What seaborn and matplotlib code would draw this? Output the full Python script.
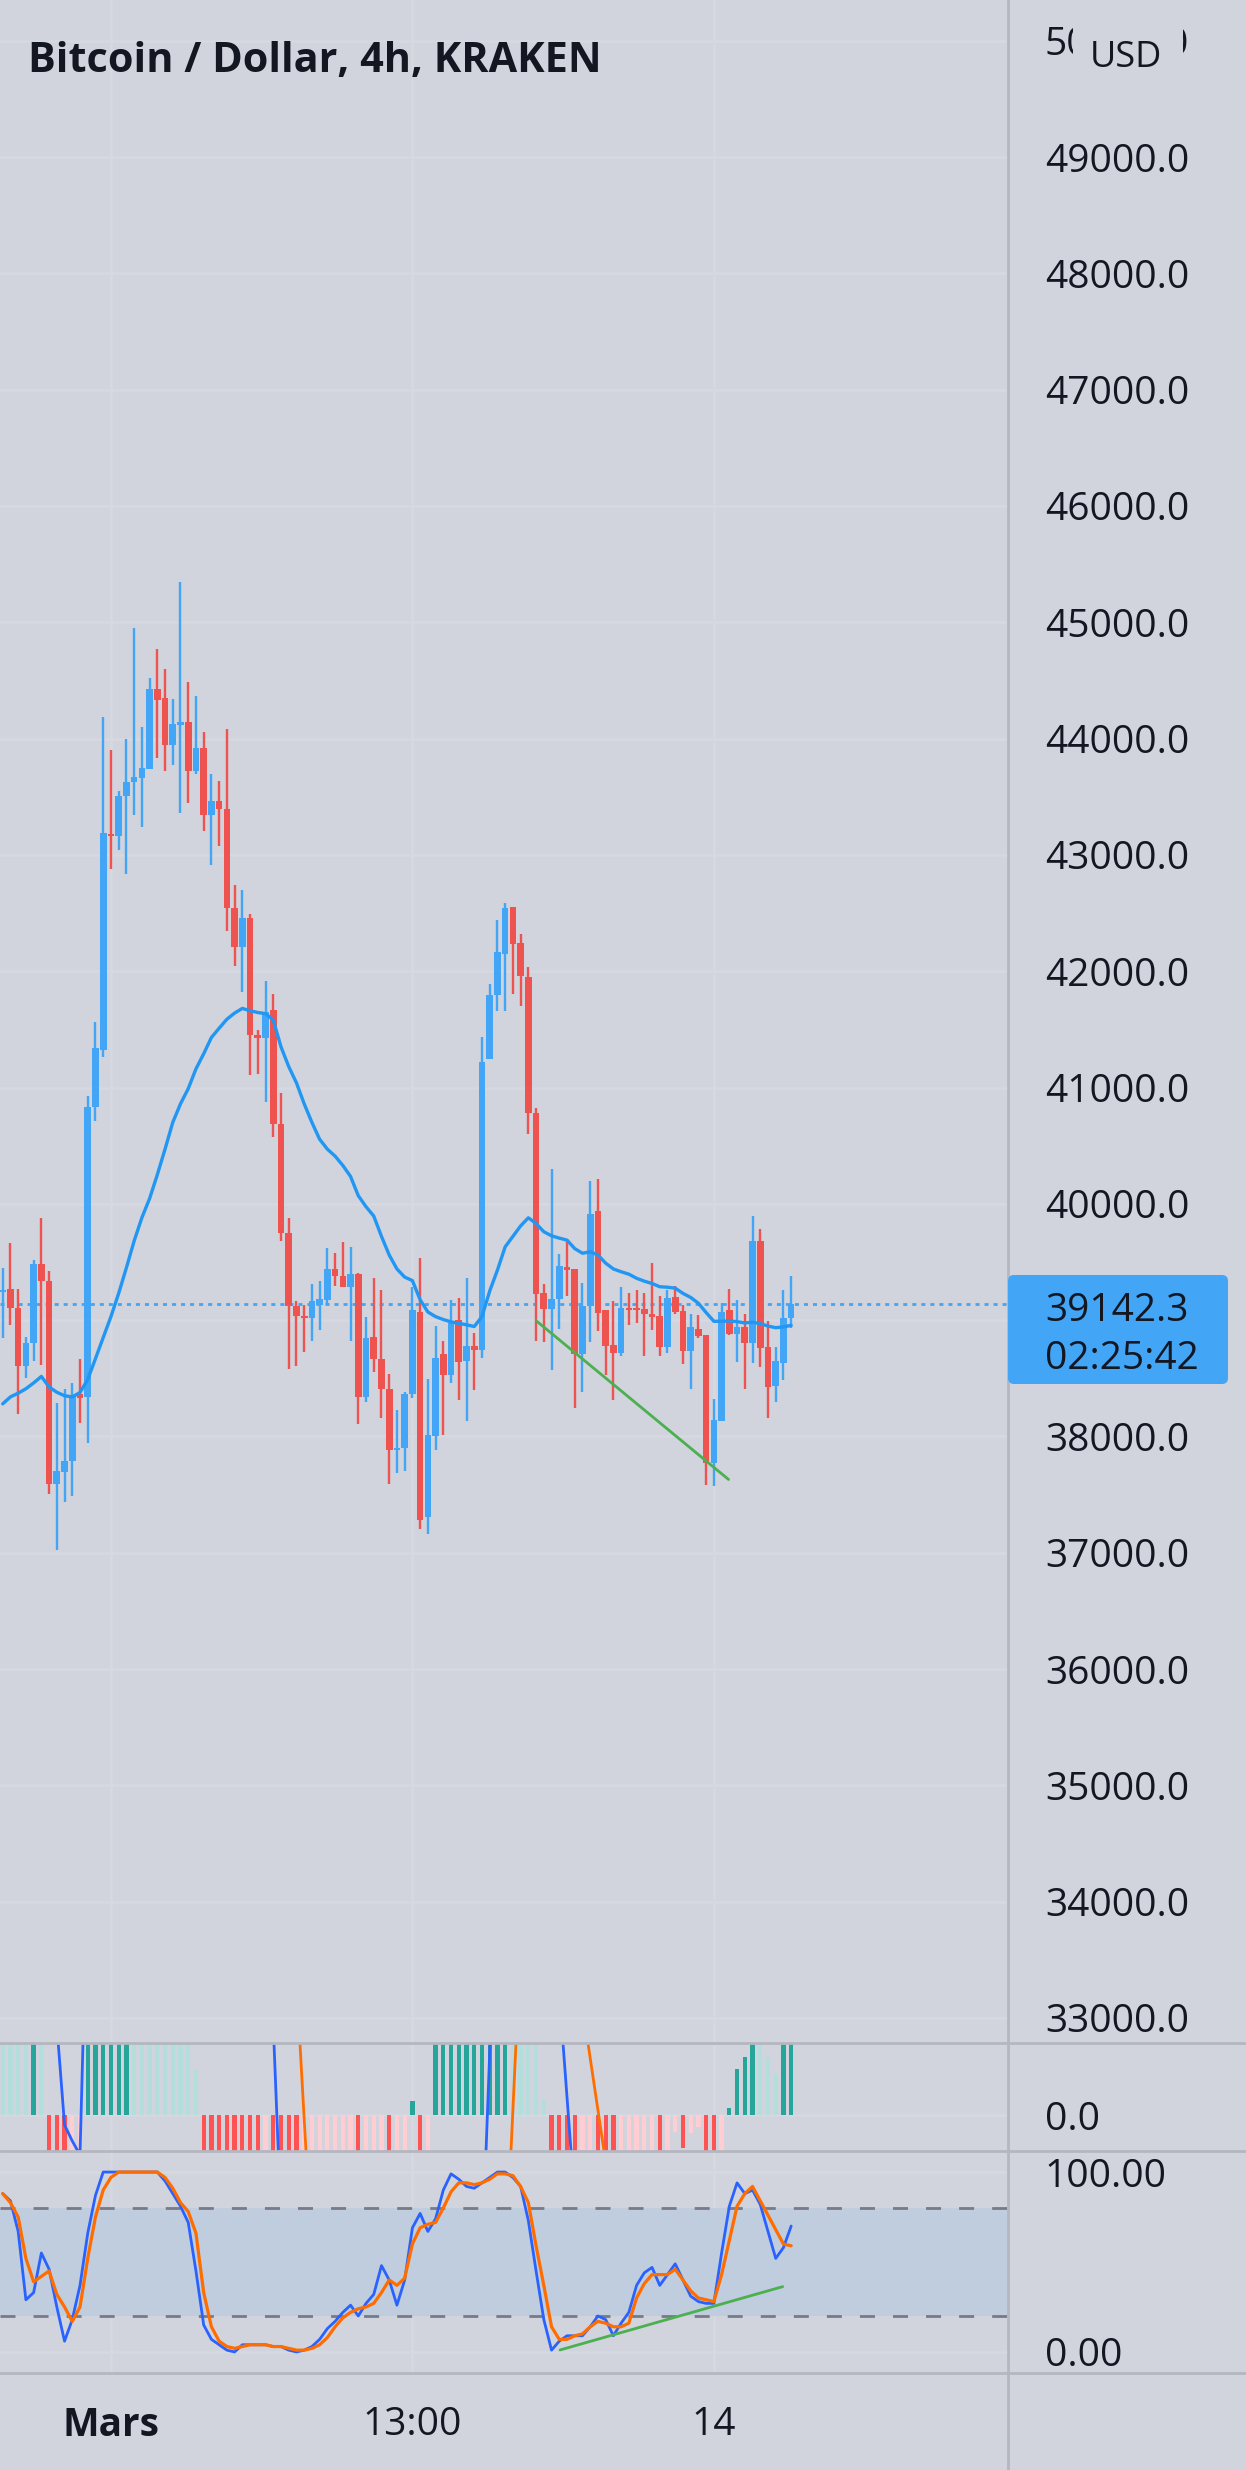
import numpy as np
import pandas as pd
import matplotlib
matplotlib.use('Agg')
import matplotlib.pyplot as plt
import seaborn as sns
from matplotlib.lines import Line2D
from matplotlib.patches import FancyBboxPatch, Rectangle
from matplotlib.transforms import IdentityTransform

# BTC/USD 4h candles (Kraken)
opens = [39240, 39267, 39108, 38609, 38801, 39486, 39338, 37594, 37693, 37786,
         38362, 38335, 40830, 41323, 43177, 43161, 43506, 43627, 43660, 43736,
         44427, 44350, 43945, 44120, 44142, 43725, 43917, 43341, 43462, 43396,
         42546, 42212, 42458, 41449, 41427, 41663, 40682, 39749, 39119, 39037,
         39020, 39130, 39174, 39437, 39382, 39283, 39393, 38335, 38856, 38664,
         38406, 37880, 37900, 38367, 39070, 37304, 38003, 38705, 38532, 39004,
         38648, 38774, 38743, 41246, 41795, 42152, 42551, 42244, 41948, 40778,
         39235, 39096, 39185, 39453, 39442, 38713, 39119, 39938, 39086, 38785,
         38714, 39101, 39101, 39095, 39052, 39035, 38771, 39198, 39078, 38734,
         38923, 38871, 37768, 38135, 39086, 38880, 38943, 38806, 39682, 38771,
         38436, 38634, 39020]
highs = [39448, 39667, 39267, 38856, 39514, 39875, 39420, 38285, 38406, 38461,
         38664, 40928, 41565, 44186, 43901, 43550, 43994, 44948, 44098, 44520,
         44767, 44597, 44340, 45349, 44488, 44367, 44054, 43692, 43632, 44082,
         42738, 42700, 42491, 41493, 41916, 41806, 40950, 39875, 39163, 39130,
         39311, 39338, 39623, 39574, 39673, 39628, 39404, 39026, 39360, 39256,
         38538, 38225, 38380, 39283, 39538, 38494, 38947, 38820, 39173, 39192,
         39365, 38889, 41438, 41891, 42436, 42589, 42551, 42320, 42036, 40828,
         39311, 40298, 39569, 39695, 39442, 39319, 40195, 40213, 39086, 39164,
         39287, 39230, 39258, 39230, 39493, 39207, 39258, 39293, 39129, 39052,
         39043, 38871, 38321, 39144, 39267, 39172, 39052, 39895, 39783, 38992,
         38771, 39258, 39379]
lows = [38845, 38954, 38197, 38499, 38652, 38614, 37501, 37024, 37435, 37485,
        38115, 37940, 40709, 41258, 42875, 43040, 42837, 43341, 43243, 43736,
        43835, 43720, 43775, 43358, 43446, 43692, 43204, 42914, 43078, 42343,
        42042, 41817, 41109, 41120, 40874, 40572, 39678, 38581, 38609, 38729,
        38817, 38916, 39130, 39294, 39283, 38817, 38104, 38296, 38554, 38159,
        37594, 37688, 37700, 38329, 37208, 37162, 37880, 38014, 38463, 38314,
        38130, 38398, 38674, 41246, 41660, 41660, 41806, 41699, 40597, 38820,
        38809, 38571, 38928, 39211, 38245, 38379, 38814, 38906, 38527, 38313,
        38691, 38957, 38977, 38691, 38914, 38691, 38720, 39052, 38622, 38407,
        38848, 37582, 37573, 38135, 38871, 38642, 38407, 38634, 38599, 38161,
        38292, 38485, 38929]
closes = [39256, 39108, 38609, 38801, 39486, 39338, 37594, 37704, 37786, 38351,
          38329, 40830, 41340, 43188, 43161, 43506, 43627, 43670, 43747, 44427,
          44334, 43945, 44126, 44142, 43725, 43917, 43341, 43462, 43396, 42546,
          42212, 42458, 41449, 41427, 41652, 40682, 39749, 39119, 39037, 39020,
          39163, 39185, 39437, 39382, 39283, 39393, 38335, 38845, 38664, 38406,
          37885, 37900, 38367, 39089, 37285, 38014, 38674, 38532, 38974, 38636,
          38774, 38743, 41219, 41795, 42167, 42543, 42236, 41960, 40778, 39223,
          39096, 39185, 39465, 39427, 38713, 39119, 39912, 39058, 38777, 38719,
          39101, 39086, 39086, 39049, 39029, 38771, 39192, 39072, 38734, 38943,
          38866, 37774, 38141, 39066, 38880, 38943, 38806, 39682, 38762, 38427,
          38648, 39020, 39142.3]
ma_line = [38280, 38340, 38372, 38410, 38460, 38516, 38425, 38380, 38350, 38340,
           38378, 38490, 38669, 38850, 39030, 39230, 39450, 39680, 39880, 40045,
           40250, 40470, 40700, 40860, 40990, 41160, 41290, 41430, 41510, 41587,
           41640, 41680, 41660, 41645, 41635, 41580, 41350, 41180, 41040, 40860,
           40700, 40555, 40470, 40410, 40330, 40235, 40070, 39975, 39895, 39720,
           39560, 39440, 39370, 39340, 39175, 39070, 39030, 39005, 38985, 38972,
           38960, 38945, 39030, 39250, 39430, 39630, 39720, 39810, 39880, 39830,
           39760, 39725, 39705, 39688, 39615, 39575, 39588, 39560, 39490, 39440,
           39416, 39395, 39360, 39335, 39315, 39287, 39283, 39275, 39230, 39195,
           39145, 39065, 38990, 38990, 38993, 38987, 38976, 38982, 38970, 38949,
           38935, 38942, 38955]
last_price = 39142.3
countdown = "02:25:42"
price_ticks = list(range(33000, 50001, 1000))
hidden_tick = 39000          # sits under the last-price label

# MACD panel
macd_hist = [90, 90, 90, 90, 90, 90, -50, -50, -50, -45,
             -40, 90, 90, 90, 90, 90, 90, 90, 90, 90,
             90, 90, 90, 90, 90, 46, -50, -50, -50, -50,
             -50, -50, -50, -50, -50, -50, -50, -50, -50, -50,
             -50, -50, -50, -50, -50, -50, -50, -50, -50, -50,
             -50, -50, -50, 14, -50, -50, 90, 90, 90, 90,
             90, 90, 90, 90, 90, 90, 90, 90, 90, 90,
             16, -50, -50, -50, -50, -50, -50, -50, -50, -50,
             -50, -50, -50, -50, -50, -50, -50, -17, -33, -18,
             -12, -50, -50, -50, 7, 46, 58, 90, 90, 58,
             41, 90, 90]
hist_kind = ("ggggGgRRRrrGGGGGGgggggggggRRRRRRRRrRRRRrrrrrrrRrrrRrrGRrGGGGGGGGGG"
             "gggggRRRRrrRRRrrrrrRrrRrrRRrGGGGgggGG")
macd_line = [300, 290, 285, 280, 285, 280, 220, 90, -10, -26,
             -40, 250, 420, 700, 900, 1000, 1080, 1120, 1160, 1200,
             1210, 1200, 1190, 1170, 1150, 1120, 1060, 1000, 940, 840,
             740, 650, 520, 420, 330, 90, -104, -230, -330, -400,
             -450, -480, -490, -480, -470, -460, -470, -500, -500, -510,
             -540, -560, -540, -470, -480, -470, -440, -420, -390, -360,
             -330, -300, -144, 62, 270, 420, 520, 560, 520, 380,
             250, 150, 122, 18, -86, -140, -150, -200, -230, -260,
             -275, -285, -295, -300, -305, -320, -320, -310, -320, -325,
             -325, -370, -390, -360, -300, -250, -230, -180, -170, -180,
             -190, -150, -120]
signal_line = [200, 210, 220, 230, 240, 250, 250, 240, 200, 160,
               120, 140, 190, 290, 400, 520, 630, 730, 820, 900,
               960, 1010, 1050, 1075, 1090, 1100, 1095, 1080, 1060, 1020,
               970, 910, 840, 760, 680, 560, 420, 280, 135, -4,
               -140, -250, -320, -370, -400, -420, -430, -440, -450, -460,
               -475, -490, -500, -495, -490, -480, -465, -450, -435, -415,
               -395, -370, -340, -300, -260, -161, 5, 171, 300, 360,
               380, 370, 340, 290, 220, 109, 57, 5, -47, -100,
               -140, -170, -195, -215, -230, -245, -255, -262, -270, -275,
               -280, -290, -300, -305, -305, -300, -290, -275, -262, -250,
               -240, -228, -215]

# Stoch RSI panel
stoch_k = [88, 84, 67, 29, 33, 55, 46, 25, 6, 18,
           37, 66, 87, 100, 100, 100, 100, 100, 100, 100,
           100, 95, 88, 81, 72, 45, 15, 7, 4, 1,
           0, 4, 4, 4, 4, 3, 3, 1, 0, 1,
           3, 7, 13, 17, 22, 26, 20, 27, 32, 48,
           40, 26, 40, 69, 77, 67, 74, 90, 99, 96,
           92, 91, 94, 97, 100, 100, 97, 92, 73, 45,
           18, 1, 6, 9, 9, 9, 14, 20, 18, 9,
           16, 22, 37, 44, 47, 37, 43, 49, 40, 31,
           28, 27, 27, 55, 81, 94, 88, 90, 82, 67,
           52, 58, 70]
stoch_d = [88, 83, 75, 52, 39, 42, 45, 32, 25, 17,
           25, 52, 75, 90, 97, 100, 100, 100, 100, 100,
           100, 97, 91, 83, 78, 66, 33, 14, 6, 3,
           2, 3, 4, 4, 4, 3, 3, 2, 1, 1,
           2, 4, 8, 14, 19, 22, 24, 25, 27, 33,
           40, 37, 41, 60, 69, 71, 72, 80, 89, 94,
           94, 93, 94, 96, 99, 99, 98, 92, 83, 59,
           37, 14, 7, 7, 9, 10, 14, 17, 16, 14,
           14, 16, 30, 38, 43, 43, 43, 46, 40, 34,
           30, 29, 28, 43, 62, 81, 88, 92, 84, 76,
           68, 60, 59]

# hand drawn trend lines (candle index, value)
price_trend_x = [69.1, 93.9]
price_trend_y = [38990, 37630]
stoch_trend_x = [72.1, 100.9]
stoch_trend_y = [1.1, 36.3]

time_ticks = [14, 53, 92]
time_labels = ["Mars", "13:00", "14"]
title = "Bitcoin / Dollar, 4h, KRAKEN"

BG = '#D1D4DC'
GRID = '#D6D9E0'
SEP = '#B4B7C0'
UP = '#42A5F5'
DOWN = '#EF5350'
TXT = '#131722'
HIST_COL = {'G': '#26A69A', 'g': '#B2DFDB', 'R': '#FF5252', 'r': '#FFCDD2'}
FS = 28

sns.set_theme(style='white')
plt.rcParams['font.family'] = ['Open Sans', 'DejaVu Sans']
plt.rcParams['lines.scale_dashes'] = False
plt.rcParams['axes.facecolor'] = BG

df = pd.DataFrame({'o': opens, 'h': highs, 'l': lows, 'c': closes, 'ma': ma_line,
                   'hist': macd_hist, 'kind': list(hist_kind),
                   'macd': macd_line, 'signal': signal_line,
                   'k': stoch_k, 'd': stoch_d})
df['i'] = np.arange(len(df))
df['up'] = df['c'] >= df['o']
df['col'] = np.where(df['up'], UP, DOWN)

W, H = 1246, 2470
fig = plt.figure(figsize=(W / 100, H / 100), dpi=100, facecolor=BG)

def frac(x, y):
    return x / W, 1 - y / H

PLOT_R = 1008
ax = fig.add_axes([0, 1 - 2043 / H, PLOT_R / W, 2043 / H])
axh = fig.add_axes([0, 1 - 2151 / H, PLOT_R / W, 108 / H])
axs = fig.add_axes([0, 1 - 2373 / H, PLOT_R / W, 222 / H])

xlim = (-0.35, 130.05)
for a in (ax, axh, axs):
    a.set_facecolor(BG)
    a.set_xlim(*xlim)
    for s in a.spines.values():
        s.set_visible(False)
    a.set_axisbelow(True)
    a.set_xticks(time_ticks)
    a.grid(True, color=GRID, lw=1.8)
    a.yaxis.tick_right()
    a.tick_params(axis='both', length=0, labelsize=FS, labelcolor=TXT)
    a.tick_params(axis='y', pad=26.6)
    a.tick_params(axis='x', labelbottom=False)

# ---- price panel
ax.set_ylim(32785, 50350)
ax.set_yticks(price_ticks)
ax.set_yticklabels(["" if v == hidden_tick else f"{v:.1f}" for v in price_ticks])

body_lo = np.minimum(df['o'], df['c'])
body_h = np.maximum((df['c'] - df['o']).abs(), 18)
ax.vlines(df['i'], df['l'], df['h'], colors=df['col'], lw=1.7, zorder=3)
ax.bar(df['i'], body_h, bottom=body_lo, width=0.86, color=df['col'], linewidth=0, zorder=3)
sns.lineplot(x='i', y='ma', data=df, ax=ax, color='#2196F3', lw=2.4, zorder=4)
ax.axhline(last_price, color=UP, lw=2.0, ls=(0, (2.9, 3.6)), zorder=2)
ax.plot(price_trend_x, price_trend_y, color='#4CAF50', lw=2.0, zorder=5)
ax.set_xlabel('')
ax.set_ylabel('')

# ---- MACD panel
axh.set_ylim(-36, 72)
axh.set_yticks([0])
axh.set_yticklabels(['0.0'])
axh.grid(False, axis='y')
axh.axhline(0, color=GRID, lw=1.8, zorder=0)
axh.bar(df['i'], df['hist'], width=0.55, color=[HIST_COL[k] for k in df['kind']],
        linewidth=0, zorder=2)
sns.lineplot(x='i', y='macd', data=df, ax=axh, color='#2962FF', lw=2.0, zorder=3)
sns.lineplot(x='i', y='signal', data=df, ax=axh, color='#FF6D00', lw=2.0, zorder=3)
axh.set_xlabel('')
axh.set_ylabel('')

# ---- Stoch RSI panel
axs.set_ylim(-11.7, 111.7)
axs.set_yticks([0, 100])
axs.set_yticklabels(['0.00', '100.00'])
axs.axhspan(20, 80, color='#BFCDDE', lw=0, zorder=1)
for lvl in (20, 80):
    axs.axhline(lvl, color='#787B86', lw=2.0, ls=(0, (10.8, 13.0)), zorder=2)
sns.lineplot(x='i', y='k', data=df, ax=axs, color='#2962FF', lw=2.0, zorder=4)
sns.lineplot(x='i', y='d', data=df, ax=axs, color='#FF6D00', lw=2.3, zorder=4)
axs.plot(stoch_trend_x, stoch_trend_y, color='#4CAF50', lw=2.0, zorder=5)
axs.set_xlabel('')
axs.set_ylabel('')

# time labels under the last panel
axs.tick_params(axis='x', labelbottom=True, pad=23.5)
axs.set_xticklabels(time_labels)
axs.get_xticklabels()[0].set_fontweight('bold')

# ---- panel separators
for y in (2043, 2151, 2373):
    fig.add_artist(Line2D([0, 1], [1 - y / H] * 2, transform=fig.transFigure,
                          color=SEP, lw=2.0, zorder=6))
fig.add_artist(Line2D([PLOT_R / W] * 2, [0, 1], transform=fig.transFigure,
                      color=SEP, lw=2.0, zorder=6))

# title
fig.text(*frac(28, 72), title, fontsize=29.8, fontweight='bold', color=TXT,
         ha='left', va='baseline', zorder=7)

# USD unit box over the top price label
fig.add_artist(Rectangle((1073, H - 90), 110, 75, transform=IdentityTransform(),
                         facecolor=BG, edgecolor='none', zorder=7))
fig.text(*frac(1126, 67), "USD", fontsize=26, color=TXT, ha='center', va='baseline', zorder=8)

# last price label
fig.add_artist(FancyBboxPatch((1008, H - 1384), 220, 109,
                              boxstyle='round,pad=0,rounding_size=6',
                              transform=IdentityTransform(), facecolor=UP,
                              edgecolor='none', zorder=7))
fig.text(*frac(1045, 1321), f"{last_price:.1f}", fontsize=FS, color=TXT,
         ha='left', va='baseline', zorder=8)
fig.text(*frac(1045, 1369), countdown, fontsize=FS, color=TXT,
         ha='left', va='baseline', zorder=8)

fig.savefig('out.png', dpi=100, facecolor=BG)
